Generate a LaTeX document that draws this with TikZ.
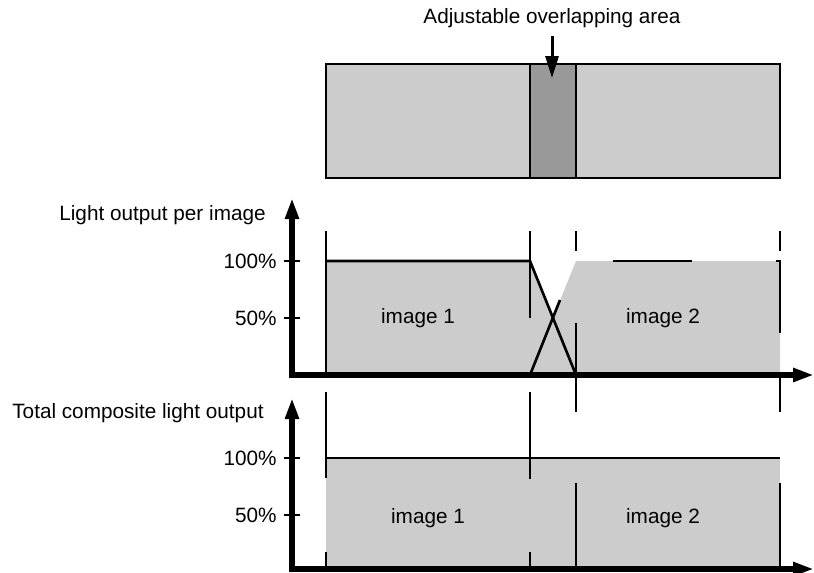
\documentclass[tikz,border=0pt]{standalone}
\usepackage{fontspec}
\setmainfont{Liberation Sans}
\usetikzlibrary{arrows.meta}
\definecolor{lightgrey}{HTML}{CCCCCC}
\definecolor{darkgrey}{HTML}{999999}

\begin{document}
\begin{tikzpicture}[x=0.02cm, y=-0.02cm, >={Triangle[length=0.42cm, width=0.26cm]},
  lbl/.style={font=\fontsize{11.8}{14}\selectfont, inner sep=0pt},
  axisline/.style={line width=3pt, ->},
  thinline/.style={line width=0.9pt},
  edgeline/.style={line width=1.5pt},
  tickline/.style={line width=1.4pt}]
  \useasboundingbox (0,0) rectangle (814,572);

  % Top bar with overlapping area
  \filldraw[fill=lightgrey, edgeline] (326,64) rectangle (780,178);
  \filldraw[fill=darkgrey, edgeline] (530,64) rectangle (576,178);
  \node[lbl] (overlap) at (552,18) {Adjustable overlapping area};
  \coordinate (overlaptip) at (552,78);
  \draw[edgeline, line width=1.7pt, -{Triangle[length=0.44cm, width=0.26cm]}, shorten <=4.5pt] (overlap) -- (overlaptip);

  % Light output per image
  \fill[lightgrey] (326,375) -- (326,261) -- (530,261) -- (576,375) -- cycle;
  \fill[lightgrey] (530,375) -- (576,261) -- (780,261) -- (780,375) -- cycle;
  \draw[edgeline] (326,261) -- (530,261) -- (576,375);
  \draw[edgeline] (530,375) -- (560,300);
  \draw[edgeline] (613,261) -- (692,261);
  \draw[edgeline] (776,261) -- (780,261) -- (780,333);
  \draw[thinline] (326,231) -- (326,375);
  \draw[thinline] (530,231) -- (530,318);
  \draw[thinline] (576,231) -- (576,251) (576,323) -- (576,412);
  \draw[thinline] (780,231) -- (780,251) (780,375) -- (780,412);

  \coordinate (origin1) at (292,375);
  \coordinate (ytop1) at (292,198);
  \coordinate (xend1) at (814,375);
  \draw[axisline] (origin1) -- (ytop1);
  \draw[axisline] ([xshift=-1.5pt]origin1) -- (xend1);
  \draw[tickline] (284,261) -- (300,261);
  \draw[tickline] (284,318) -- (300,318);
  \node[lbl, anchor=east] (full1) at (277,261) {100\%};
  \node[lbl, anchor=east] (half1) at (277,318) {50\%};
  \node[lbl, anchor=west] (title1) at (59,215) {Light output per image};
  \node[lbl] (imgA1) at (418,318) {image 1};
  \node[lbl] (imgB1) at (663,318) {image 2};

  % Total composite light output
  \fill[lightgrey] (326,458) rectangle (780,569);
  \draw[edgeline] (326,458) -- (780,458);
  \draw[thinline] (326,392) -- (326,478) (326,552) -- (326,569);
  \draw[thinline] (530,392) -- (530,479) (530,552) -- (530,569);
  \draw[thinline] (576,483) -- (576,569);
  \draw[thinline] (780,483) -- (780,569);

  \coordinate (origin2) at (292,569);
  \coordinate (ytop2) at (292,398);
  \coordinate (xend2) at (814,569);
  \draw[axisline] (origin2) -- (ytop2);
  \draw[axisline] ([xshift=-1.5pt]origin2) -- (xend2);
  \draw[tickline] (284,458) -- (300,458);
  \draw[tickline] (284,515) -- (300,515);
  \node[lbl, anchor=east] (full2) at (277,458) {100\%};
  \node[lbl, anchor=east] (half2) at (277,515) {50\%};
  \node[lbl, anchor=west] (title2) at (12,413) {Total composite light output};
  \node[lbl] (imgA2) at (428,518) {image 1};
  \node[lbl] (imgB2) at (663,518) {image 2};
\end{tikzpicture}
\end{document}
